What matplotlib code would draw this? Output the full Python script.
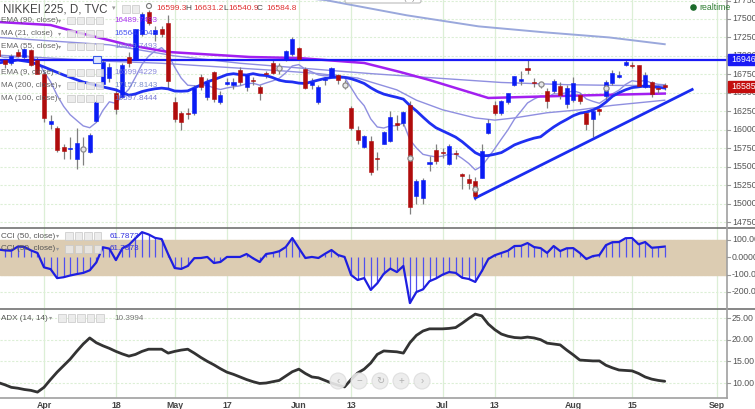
import matplotlib
matplotlib.use('Agg')
import matplotlib.pyplot as plt
import numpy as np
from matplotlib.patches import Rectangle, Circle, FancyBboxPatch

plt.rcParams['font.family'] = ['Liberation Sans', 'DejaVu Sans']

# ---------------- data ----------------
bars = list(range(-7, 96))  # trading-day index, 0 = 1 Apr 2016
opens = [17080, 16950, 16900, 17050, 16980, 17075, 16950,
         16760, 16080, 16030, 15760, 15735, 15600, 15720, 15700, 16120, 16620,
         16700, 16500, 16440, 16980, 16950, 17300, 17600, 17300, 17370, 17450,
         16370, 16220, 16230, 16230, 16720, 16440, 16780, 16370, 16620, 16600,
         16810, 16575, 16680, 16585, 16760, 16910, 16830, 16960, 17030, 17110,
         16820, 16600, 16380, 16670, 16710, 16740, 16630, 16300, 15990, 15770,
         15850, 15620, 15810, 15850, 16090, 16085, 16330, 15105, 15075, 15540,
         15730, 15700, 15530, 15690, 15400, 15330, 15300, 15350, 15950, 16330,
         16220, 16370, 16600, 16660, 16840, 16640, 16600, 16530, 16530, 16590,
         16350, 16400, 16470, 16230, 16150, 16280, 16460, 16630, 16720, 16870,
         16880, 16870, 16585, 16640, 16560, 16599.3]
highs = [17100, 16960, 17030, 17100, 17110, 17090, 16990,
         16780, 16200, 16050, 15800, 15900, 16030, 15900, 15950, 16400, 16940,
         16900, 16560, 16900, 17050, 17370, 17600, 17620, 17400, 17400, 17560,
         16450, 16250, 16300, 16600, 16750, 16700, 16800, 16520, 16700, 16700,
         16850, 16760, 16710, 16610, 16800, 16950, 16900, 17080, 17250, 17120,
         16850, 16700, 16600, 16710, 16850, 16760, 16680, 16320, 16050, 15930,
         15920, 15700, 15980, 16250, 16200, 16250, 16390, 15330, 15340, 15650,
         15800, 15750, 15800, 15720, 15420, 15400, 15360, 15800, 16150, 16390,
         16400, 16500, 16730, 16800, 16940, 16700, 16650, 16560, 16690, 16640,
         16600, 16720, 16500, 16260, 16280, 16300, 16680, 16810, 16800, 16960,
         16920, 16880, 16780, 16660, 16600, 16631.2]
lows = [16950, 16830, 16880, 16980, 16960, 16860, 16780,
        16110, 16010, 15700, 15600, 15600, 15471, 15520, 15680, 16100, 16600,
        16650, 16210, 16430, 16850, 16940, 17270, 17420, 17200, 17250, 16570,
        16100, 16000, 16150, 16200, 16540, 16400, 16380, 16350, 16600, 16550,
        16600, 16530, 16600, 16400, 16700, 16750, 16750, 16930, 17000, 16940,
        16550, 16550, 16350, 16600, 16700, 16620, 16550, 15990, 15800, 15750,
        15390, 15450, 15800, 15830, 16000, 16050, 14864, 15000, 15000, 15440,
        15540, 15620, 15520, 15600, 15200, 15200, 15050, 15340, 15940, 16200,
        16200, 16350, 16590, 16600, 16760, 16580, 16560, 16300, 16500, 16420,
        16300, 16380, 16350, 16000, 15900, 16200, 16400, 16600, 16700, 16860,
        16840, 16580, 16560, 16450, 16500, 16540.9]
closes = [17000, 16892, 17002, 17002, 17100, 16879, 16760,
          16164, 16123, 15732, 15715, 15749, 15821, 15751, 15928, 16381, 16911,
          16848, 16275, 16874, 16906, 17364, 17572, 17440, 17353, 17290, 16666,
          16147, 16106, 16216, 16565, 16579, 16646, 16412, 16466, 16653, 16645,
          16646, 16736, 16655, 16499, 16757, 16772, 16835, 17068, 17235, 16955,
          16562, 16643, 16580, 16676, 16830, 16668, 16601, 16019, 15859, 15919,
          15434, 15599, 15965, 16169, 16065, 16238, 14952, 15309, 15323, 15566,
          15575, 15682, 15775, 15669, 15378, 15276, 15106, 15708, 16095, 16231,
          16385, 16497, 16723, 16681, 16810, 16627, 16620, 16383, 16664, 16476,
          16569, 16635, 16391, 16083, 16254, 16254, 16650, 16764, 16735, 16919,
          16869, 16596, 16745, 16486, 16545, 16584.8]

marker_bars = [6, 36, 46, 56, 66, 76, 86]
marker_prices = [15740, 16835, 16601, 15620, 15200, 16620, 16560]

# moving averages (bar index, price)
ma21_early_bars = [-7, -4, -2, 0, 3, 6, 9, 11]
ma21_early_vals = [16904, 16944, 16917, 16850, 16741, 16646, 16580, 16540]
ema55_bars = [-7, 1, 9, 18, 27, 36, 42, 48, 54, 57, 61, 66, 69, 72, 77, 82, 87, 95]
ema55_vals = [17010, 16970, 16930, 16900, 16850, 16800, 16760, 16700, 16540, 16400,
              16270, 16160, 16130, 16160, 16230, 16270, 16330, 16400]
ema90_bars = [-7, 1, 5.5, 13, 19, 31.5, 39, 49, 54.5, 59, 64, 68, 79, 85, 95]
ema90_vals = [17459, 17418, 17310, 17147, 17053, 16985, 16971, 16904, 16782, 16673,
              16538, 16430, 16457, 16470, 16490]
ma100_bars = [-7, 10, 20, 30, 40, 50, 60, 70, 80, 88, 95]
ma100_vals = [17250, 17150, 17000, 16900, 16830, 16760, 16700, 16640, 16610, 16600, 16598]
ma200_bars = [38, 43, 55.5, 66.5, 76.5, 86.5, 95]
ma200_vals = [17800, 17757, 17550, 17400, 17320, 17250, 17158]

hline_price = 16946.4
trend_bars = [66.0, 99.2]
trend_vals = [15075, 16545]

cci = [45, 40, 38, 62, 60, 40, 25,
       -58, -68, -120, -115, -105, -97, -90, -75, -30, 58, 50, -16, 52, 72, 110, 145,
       132, 112, 105, 18, -62, -67, -50, -5, -4, 2, -33, -27, 2, 2, 2, 19, -6, -27,
       19, 25, 35, 59, 111, 53, -4, 2, -4, 20, 42, 13, 2, -102, -131, -120, -188,
       -150, -95, -65, -85, -50, -264, -200, -185, -138, -122, -100, -85, -90, -118,
       -125, -142, -80, -10, 12, 25, 38, 65, 66, 82, 59, 53, 25, 65, 36, 52, 53, 25,
       -10, 7, 13, 70, 87, 88, 110, 111, 75, 88, 55, 58, 62]
adx = [10.1, 9.6, 9.0, 8.8, 8.5, 8.3, 7.9,
       9.0, 10.8, 12.5, 14.0, 15.5, 17.3, 19.0, 20.4, 19.3, 18.6, 18.0, 17.3, 16.7,
       16.2, 16.6, 17.3, 17.8, 17.8, 17.8, 16.9, 17.3, 17.6, 17.8, 16.9, 15.9, 15.0,
       14.2, 13.3, 12.5, 12.0, 11.4, 10.8, 10.3, 9.9, 10.0, 10.3, 10.6, 11.6, 12.6,
       13.2, 12.2, 11.4, 11.2, 10.6, 10.0, 9.5, 9.1, 10.8, 12.3, 13.2, 14.6, 16.6,
       17.4, 17.3, 17.2, 16.9, 19.3, 21.0, 22.0, 22.5, 22.5, 22.5, 22.6, 22.8, 23.8,
       24.9, 25.9, 25.5, 23.6, 22.3, 21.3, 20.8, 20.5, 20.4, 20.6, 20.4, 20.0, 19.2,
       19.0, 18.8, 17.6, 16.5, 15.3, 15.2, 15.1, 15.1, 14.1, 13.5, 13.0, 12.9, 12.8,
       12.2, 11.4, 10.9, 10.6, 10.4]

xtick_bars = [0, 11, 20, 28, 39, 47, 61, 69, 81, 90, 103]
xtick_labels = ['Apr', '18', 'May', '17', 'Jun', '13', 'Jul', '13', 'Aug', '15', 'Sep']
price_ticks = [14750, 15000, 15250, 15500, 15750, 16000, 16250, 16500, 16750, 17000, 17250, 17500, 17750]
cci_ticks = [100, 0, -100, -200]
cci_labels = ['100.000', '0.0000', '-100.000', '-200.000']
adx_ticks = [25, 20, 15, 10]

# ---------------- derived series ----------------
b = np.array(bars, float)
o = np.array(opens); h = np.array(highs); l = np.array(lows); c = np.array(closes)
ema9 = np.zeros_like(c)
ema9[0] = c[0]
for k in range(1, len(c)):
    ema9[k] = c[k] * 0.2 + ema9[k - 1] * 0.8
ma21 = np.convolve(c, np.ones(21) / 21, mode='valid')
ma21_bars = np.concatenate([ma21_early_bars, b[20:]])
ma21_vals = np.concatenate([ma21_early_vals, ma21])

# ---------------- figure ----------------
W, H = 755, 409
fig = plt.figure(figsize=(W / 100, H / 100), dpi=100)
fig.patch.set_facecolor('white')
PX0 = -6.734
PXS = 6.534
XR = PX0 + 727 / PXS

def add_panel(top, bottom):
    a = fig.add_axes([0, 1 - bottom / H, 727 / W, (bottom - top) / H])
    a.set_xlim(PX0, XR)
    for s in a.spines.values():
        s.set_visible(False)
    a.tick_params(left=False, right=False, bottom=False, top=False,
                  labelleft=False, labelbottom=False)
    for xb in xtick_bars:
        a.axvline(xb, color='#dcefd6', lw=0.9, zorder=0)
    return a

GRID = dict(color='#dcefd6', lw=0.8, ls=(0, (2, 1.5)), zorder=0)
TICKC = '#555555'
TFS = 6.3

# main price panel
ax = add_panel(0, 228)
ax.set_ylim(14669, 17757)
for p in price_ticks:
    ax.axhline(p, **GRID)

up = c >= o
body_lo = np.minimum(o, c)
body_h = np.maximum(np.abs(c - o), 12)
ax.vlines(b, l, h, color='#808080', lw=0.9, zorder=3)
ax.bar(b[up], body_h[up], bottom=body_lo[up], width=0.62, color='#0a1cf5',
       edgecolor='#0a1cf5', lw=0.4, zorder=4)
ax.bar(b[~up], body_h[~up], bottom=body_lo[~up], width=0.62, color='#b00c0c',
       edgecolor='#b00c0c', lw=0.4, zorder=4)
ax.scatter(marker_bars, marker_prices, s=14, facecolor='#e6e6e6', edgecolor='#8a8a8a',
           lw=0.9, zorder=5)

LAV = '#8f8fe0'
ax.plot(ma200_bars, ma200_vals, color='#9aa8dc', lw=1.4, zorder=2)
ax.plot(ma100_bars, ma100_vals, color=LAV, lw=1.0, zorder=2)
ax.plot(ema55_bars, ema55_vals, color=LAV, lw=1.0, zorder=2)
ax.plot(b, ema9, color=LAV, lw=1.0, zorder=2)
ax.plot(ema90_bars, ema90_vals, color='#a21ff0', lw=1.8, zorder=2)
ax.plot(ma21_bars, ma21_vals, color='#1f2ff2', lw=2.0, zorder=3)
ax.axhline(hline_price, color='#1a1af5', lw=1.6, zorder=3)
ax.plot(trend_bars, trend_vals, color='#1a2cf0', lw=2.0, zorder=3)

# CCI panel
axc = add_panel(228, 308)
axc.set_ylim(-292.5, 169)
axc.axhspan(-100, 100, color='#dcccb2', zorder=0.5)
for t in cci_ticks:
    axc.axhline(t, **GRID)
axc.vlines(b, 0, cci, color='#5050f0', lw=0.9, zorder=2)
axc.plot(b, cci, color='#1e1ee0', lw=1.6, zorder=3)

# ADX panel
axa = add_panel(309, 398)
axa.set_ylim(6.54, 27.08)
for t in adx_ticks:
    axa.axhline(t, **GRID)
axa.plot(b, adx, color='#333333', lw=2.0, zorder=3, solid_capstyle='round')

# ---------------- overlay (pixel coordinates) ----------------
ov = fig.add_axes([0, 0, 1, 1], zorder=10)
ov.set_xlim(0, W); ov.set_ylim(H, 0); ov.axis('off')
ov.patch.set_alpha(0)

def py_main(p):
    return (17757 - p) * 228 / (17757 - 14669)
def py_cci(v):
    return 228 + (169 - v) * 80 / (169 + 292.5)
def py_adx(v):
    return 309 + (27.08 - v) * 89 / (27.08 - 6.54)
def px_bar(i):
    return (i - PX0) * PXS

# separators and axes lines
ov.plot([0, W], [228, 228], color='#666666', lw=1.1)
ov.plot([0, W], [308.5, 308.5], color='#666666', lw=1.1)
ov.plot([727, 727], [0, 398], color='#a0a0a0', lw=1.2)
ov.plot([0, 727], [398, 398], color='#a0a0a0', lw=1.2)

for p in price_ticks:
    y = py_main(p)
    ov.plot([727, 730], [y, y], color='#999999', lw=0.8)
    ov.text(732, y, f'{p:.1f}', fontsize=TFS, color=TICKC, va='center', ha='left')
for t, lab in zip(cci_ticks, cci_labels):
    y = py_cci(t)
    ov.plot([727, 730], [y, y], color='#999999', lw=0.8)
    ov.text(732, y, lab[:7], fontsize=TFS, color=TICKC, va='center', ha='left')
for t in adx_ticks:
    y = py_adx(t)
    ov.plot([727, 730], [y, y], color='#999999', lw=0.8)
    ov.text(732, y, f'{t:.2f}', fontsize=TFS, color=TICKC, va='center', ha='left')
for xb, lab in zip(xtick_bars, xtick_labels):
    ov.text(px_bar(xb), 405, lab, fontsize=6.3, color='#444444', ha='center',
            va='center', fontweight='bold')

# price labels on axis
yb = py_main(hline_price)
ov.add_patch(Rectangle((728, yb - 5.5), 30, 11, color='#1a1af5', zorder=5))
ov.text(731, yb, f'{hline_price:.0f}', fontsize=TFS, color='white', va='center', zorder=6)
yr = py_main(closes[-1])
ov.add_patch(Rectangle((728, yr - 5.5), 30, 11, color='#c40d0d', zorder=5))
ov.text(731, yr, f'{closes[-1]:.0f}', fontsize=TFS, color='white', va='center', zorder=6)

# realtime
ov.add_patch(Circle((693.5, 7.5), 2.6, color='#1b6b2a'))
ov.text(699, 7.5, 'realtime', fontsize=6.3, color='#2e7d32', va='center')

# top centre tooltip box (cut off)
ov.add_patch(FancyBboxPatch((345, -8), 76, 11, boxstyle='round,pad=0,rounding_size=2',
                            facecolor='white', edgecolor='#bbbbbb', lw=0.8))
ov.text(383, -1.5, 'Last Price Line (D)', fontsize=5.5, color='#888888', ha='center', va='center')

LEG = '#555555'
NFS = 5.9

def icons(x0, y, n=4):
    for k in range(n):
        ov.add_patch(Rectangle((x0 + k * 9.5, y - 3.6), 7.5, 7.2, facecolor='#e9e9e9',
                               edgecolor='#c8c8c8', lw=0.6, alpha=0.85))

# title row
ov.text(3, 9, 'NIKKEI 225, D, TVC', fontsize=8.3, color='#444444', va='center')
ov.text(112, 9, '\u25be', fontsize=5, color='#999999', va='center')
icons(122, 9, 2)
ov.add_patch(Circle((149, 6), 2.5, facecolor='none', edgecolor='#777777', lw=0.8))
ohlc_x = [156, 185, 193, 223, 228, 257, 266]
ohlc_t = ['16599.3', 'H', '16631.2', 'L', '16540.9', 'C', '16584.8']
for xx, t in zip(ohlc_x, ohlc_t):
    col = '#444444' if t in ('H', 'L', 'C') else '#e03030'
    ov.text(xx, 9, t, fontsize=6.0, color=col, va='center')

legend_rows = [
    (20.5, 'EMA (90, close)', '16489.7493', '#a21ff0'),
    (33.5, 'MA (21, close)', '16564.7048', '#2f3ff0'),
    (46.5, 'EMA (55, close)', '16409.7493', '#7c7cd8'),
    (72.5, 'EMA (9, close)', '16599.4229', '#7c7cd8'),
    (85.5, 'MA (200, close)', '17157.8143', '#6f84c8'),
    (98.5, 'MA (100, close)', '16597.8444', '#6a6ad0'),
]
for y, name, val, col in legend_rows:
    ov.text(1, y, name, fontsize=NFS, color=LEG, va='center', alpha=0.9)
    ov.text(58, y, '\u25be', fontsize=4.5, color='#999999', va='center')
    icons(67, y)
    ov.text(114, y, val, fontsize=NFS, color=col, va='center', alpha=0.9)
ov.add_patch(Rectangle((93, 55.5), 7.5, 7.5, facecolor='#dfe6ff', edgecolor='#3a5ae8', lw=0.8,
                       zorder=6))

# CCI legends
for y in (236, 249):
    ov.text(1, y, 'CCI (50, close)', fontsize=NFS, color=LEG, va='center')
    ov.text(56, y, '\u25be', fontsize=4.5, color='#999999', va='center')
    icons(65, y)
    ov.text(110, y, '61.7873', fontsize=NFS, color='#3030e0', va='center')

# ADX legend
ov.text(1, 318, 'ADX (14, 14)', fontsize=NFS, color=LEG, va='center')
ov.text(49, 318, '\u25be', fontsize=4.5, color='#999999', va='center')
icons(58, 318, 5)
ov.text(114, 318, '10.3994', fontsize=NFS, color='#777777', va='center')

# navigation buttons
for xc, sym in zip([338, 359, 380, 401, 422], ['\u2039', '\u2212', '\u21bb', '+', '\u203a']):
    ov.add_patch(Circle((xc, 381), 8, facecolor='#ececec', edgecolor='#dddddd', lw=0.8,
                        alpha=0.9))
    ov.text(xc, 381, sym, fontsize=7, color='#b0b0b0', ha='center', va='center')

fig.savefig('out.png', dpi=100)
